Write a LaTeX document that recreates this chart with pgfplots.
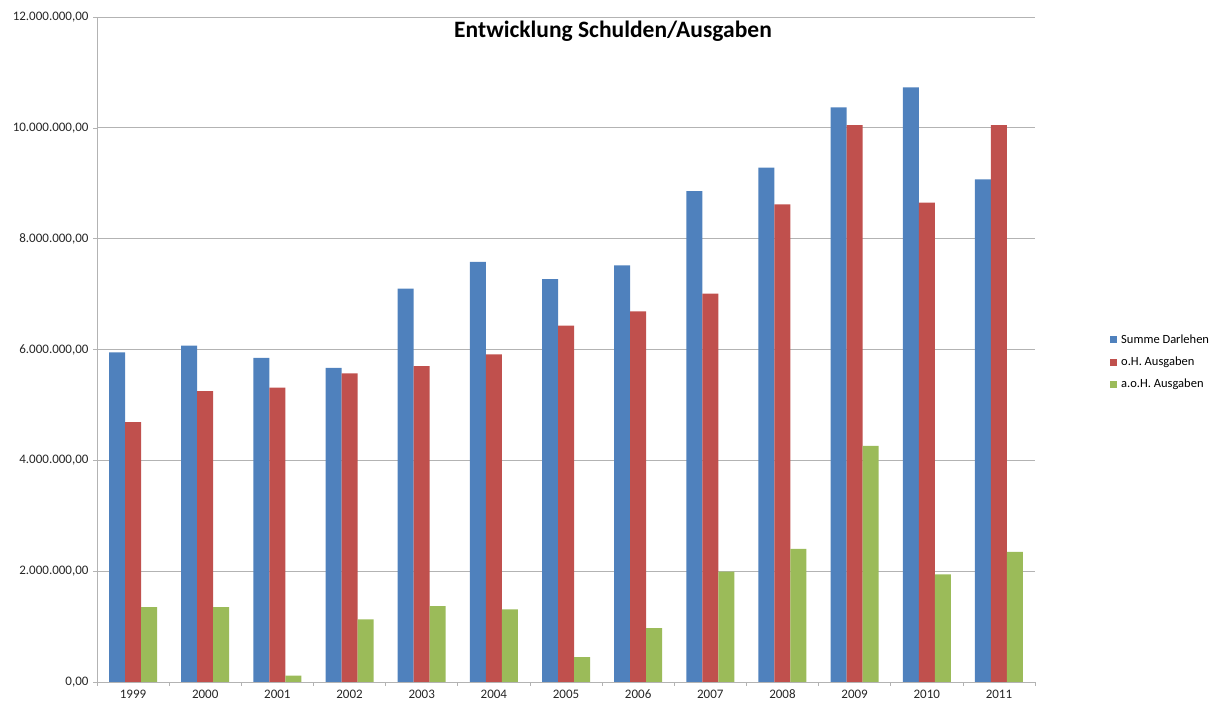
\documentclass[border=0pt]{standalone}
\usepackage{pgfplots}
\pgfplotsset{compat=1.18}
\usepackage{fontspec}
\setmainfont{Carlito}
\definecolor{cblue}{HTML}{4F81BD}
\definecolor{cred}{HTML}{C0504D}
\definecolor{cgreen}{HTML}{9BBB59}
\definecolor{cgrid}{HTML}{B3B3B3}
\begin{document}
\begin{tikzpicture}[x=1pt,y=1pt]
\useasboundingbox (0,0) rectangle (1219,704);
\begin{axis}[
  at={(97pt,22pt)}, anchor=south west,
  scale only axis, width=938pt, height=665pt,
  ybar=0pt, bar width=16pt,
  xmin=-0.5, xmax=12.5, ymin=0, ymax=12000000,
  xtick={0,...,12},
  xticklabels={1999,2000,2001,2002,2003,2004,2005,2006,2007,2008,2009,2010,2011},
  minor xtick={-0.5,0.5,...,12.5},
  ytick={0,2000000,4000000,6000000,8000000,10000000,12000000},
  scaled y ticks=false,
  yticklabel style={xshift=-1pt, /pgf/number format/.cd, fixed, fixed zerofill, precision=2, 1000 sep={.}, dec sep={,}, assume math mode=true},
  ticklabel style={font=\fontsize{13}{14}\selectfont, text=black!85},
  xticklabel style={yshift=-3pt, inner ysep=1pt, text height=8.5pt, text depth=0pt},
  axis x line*=bottom, axis y line*=left,
  axis line style={cgrid, line width=0.8pt},
  ymajorgrids, major grid style={cgrid, line width=0.8pt},
  major x tick style={draw=none},
  minor x tick style={cgrid, line width=0.6pt},
  minor tick length=4pt,
  major y tick style={cgrid, line width=0.6pt},
  major tick length=4pt,
  tick align=outside,
  legend style={at={(1.080,0.481)}, anchor=west, draw=none, fill=none,
    inner sep=0pt,
    font=\fontsize{12.5}{13}\selectfont, row sep=8pt,
    legend cell align=left,
    nodes={inner xsep=4pt}},
  legend image code/.code={\fill[#1] (0pt,-3.5pt) rectangle (7pt,3.5pt);},
]
\addplot[fill=cblue, draw=none] coordinates {
(0,5950000) (1,6070000) (2,5850000) (3,5670000) (4,7100000) (5,7580000) (6,7270000)
(7,7520000) (8,8860000) (9,9280000) (10,10370000) (11,10730000) (12,9070000)};
\addplot[fill=cred, draw=none] coordinates {
(0,4690000) (1,5250000) (2,5310000) (3,5570000) (4,5700000) (5,5910000) (6,6430000)
(7,6690000) (8,7010000) (9,8620000) (10,10050000) (11,8650000) (12,10050000)};
\addplot[fill=cgreen, draw=none] coordinates {
(0,1350000) (1,1350000) (2,115000) (3,1130000) (4,1370000) (5,1310000) (6,450000)
(7,970000) (8,1990000) (9,2400000) (10,4260000) (11,1940000) (12,2350000)};
\legend{Summe Darlehen, o.H. Ausgaben, a.o.H. Ausgaben}
\end{axis}
\node[font=\bfseries\fontsize{23.5}{26}\selectfont] at (613,673) {Entwicklung Schulden/Ausgaben};
\end{tikzpicture}
\end{document}
